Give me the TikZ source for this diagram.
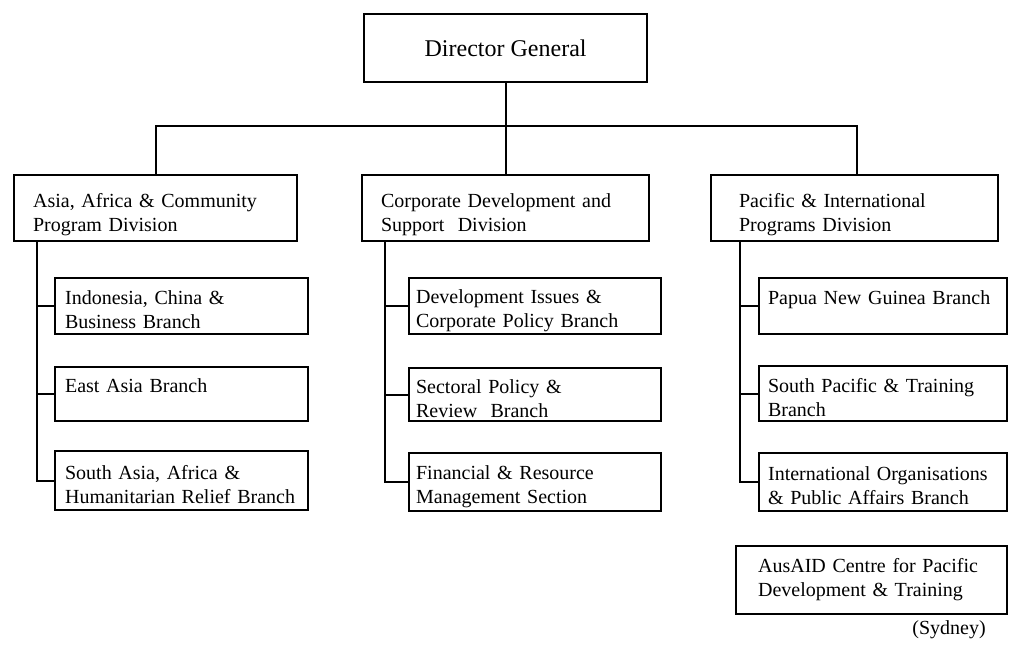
\documentclass[tikz,border=0pt]{standalone}
\usepackage{fontspec}
\setmainfont{Liberation Serif}
\usetikzlibrary{calc}
\newcommand\myup[1]{\rule{0pt}{#1pt}}
\newcommand\mydn{\rule[-3pt]{0pt}{3pt}}
\begin{document}
\begin{tikzpicture}[x=1pt,y=-1pt,line width=2.2pt,
  box/.style={draw,rectangle,anchor=north west,align=left,inner ysep=0pt,
    font=\fontsize{20}{24}\selectfont},
  conn/.style={draw,line width=2.2pt}]
\useasboundingbox (0,0) rectangle (1009,646);
% top
\node[box,align=center,minimum width=283pt,minimum height=68pt,inner xsep=0pt,
  font=\fontsize{24}{28}\selectfont] (dg) at (363,13) {Director General};
% divisions
\node[box,minimum width=283pt,minimum height=66pt,inner xsep=19pt,text width=245pt] (d1) at (13,174)
  {\myup{27}Asia, Africa \& Community\\Program Division\mydn};
\node[box,minimum width=287pt,minimum height=66pt,inner xsep=19pt,text width=249pt] (d2) at (361,174)
  {\myup{27}Corporate Development and\\Support\ \ Division\mydn};
\node[box,minimum width=287pt,minimum height=66pt,inner xsep=28pt,text width=231pt] (d3) at (710,174)
  {\myup{27}Pacific \& International\\Programs Division\mydn};
% branches of division 1
\node[box,minimum width=253pt,minimum height=56pt,inner xsep=10pt,text width=233pt] (b11) at (54,277)
  {\myup{24}Indonesia, China \&\\Business Branch\mydn};
\node[box,minimum width=253pt,minimum height=54pt,inner xsep=10pt,text width=233pt] (b12) at (54,366)
  {\myup{24}East Asia Branch\\\mbox{}\mydn};
\node[box,minimum width=253pt,minimum height=59pt,inner xsep=10pt,text width=233pt] (b13) at (54,450)
  {\myup{24}South Asia, Africa \&\\Humanitarian Relief Branch\mydn};
% branches of division 2
\node[box,minimum width=252pt,minimum height=56pt,inner xsep=7pt,text width=238pt] (b21) at (408,277)
  {\myup{24}Development Issues \&\\Corporate Policy Branch\mydn};
\node[box,minimum width=252pt,minimum height=53pt,inner xsep=7pt,text width=238pt] (b22) at (408,367)
  {\myup{24}Sectoral Policy \&\\Review\ \ Branch\mydn};
\node[box,minimum width=252pt,minimum height=58pt,inner xsep=7pt,text width=238pt] (b23) at (408,452)
  {\myup{24}Financial \& Resource\\Management Section\mydn};
% branches of division 3
\node[box,minimum width=248pt,minimum height=56pt,inner xsep=9pt,text width=230pt] (b31) at (758,277)
  {\myup{24}Papua New Guinea Branch\\\mbox{}\mydn};
\node[box,minimum width=248pt,minimum height=55pt,inner xsep=9pt,text width=230pt] (b32) at (758,365)
  {\myup{24}South Pacific \& Training\\Branch\mydn};
\node[box,minimum width=248pt,minimum height=58pt,inner xsep=9pt,text width=230pt] (b33) at (758,452)
  {\myup{24}International Organisations\\\& Public Affairs Branch\mydn};
% centre
\node[box,minimum width=271pt,minimum height=68pt,inner xsep=22pt,text width=227pt] (aus) at (735,545)
  {\myup{14}AusAID Centre for Pacific\\Development \& Training\mydn};
\node[font=\fontsize{20}{24}\selectfont,inner sep=0pt] (syd) at (949,630) {(Sydney)};
% connectors
\coordinate (barR) at (857,126);
\draw[conn] (dg.south) -- (d2.north);
\draw[conn] (d1.north) |- (barR) -- (barR |- d3.north);
\coordinate (s1) at ($(d1.south west)+(24,0)$);
\coordinate (s2) at ($(d2.south west)+(24,0)$);
\coordinate (s3) at ($(d3.south west)+(30,0)$);
\foreach \s/\b in {s1/b11,s1/b12,s1/b13,s2/b21,s2/b22,s2/b23,s3/b31,s3/b32,s3/b33}
  \draw[conn] (\s) |- (\b.west);
\end{tikzpicture}
\end{document}
